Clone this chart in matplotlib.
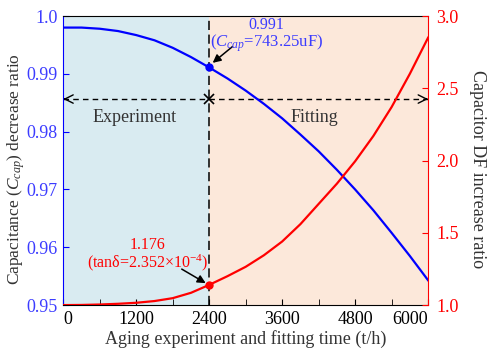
import matplotlib
matplotlib.use('Agg')
import matplotlib.pyplot as plt
import numpy as np

# --- Data ---
hours = [0, 300, 600, 900, 1200, 1500, 1800, 2100, 2400, 2700, 3000,
         3300, 3600, 3900, 4200, 4500, 4800, 5100, 5400, 5700, 6000]
cap_ratio = [0.9980, 0.9980, 0.9978, 0.9974, 0.9967, 0.9958, 0.9945,
             0.9929, 0.9911, 0.9892, 0.9871, 0.9848, 0.9823, 0.9795,
             0.9766, 0.9734, 0.9700, 0.9664, 0.9625, 0.9585, 0.9543]
df_ratio = [1.000, 1.001, 1.004, 1.009, 1.016, 1.028, 1.048, 1.085,
            1.140, 1.200, 1.265, 1.345, 1.440, 1.560, 1.700, 1.840,
            1.995, 2.170, 2.370, 2.600, 2.850]

split_hour = 2400
cap_mark = 0.9911
df_mark = 1.140
arrow_level = 0.98564

x_ticks = [0, 1200, 2400, 3600, 4800, 6000]
left_ticks = [0.95, 0.96, 0.97, 0.98, 0.99, 1.0]
left_labels = ['0.95', '0.96', '0.97', '0.98', '0.99', '1.0']
right_ticks = [1.0, 1.5, 2.0, 2.5, 3.0]
right_labels = ['1.0', '1.5', '2.0', '2.5', '3.0']

# --- Style ---
plt.rcParams['font.family'] = ['Liberation Serif', 'DejaVu Serif']
plt.rcParams['mathtext.fontset'] = 'custom'
plt.rcParams['mathtext.rm'] = 'Liberation Serif'
plt.rcParams['mathtext.it'] = 'Liberation Serif:italic'
plt.rcParams['font.size'] = 13

blue = '#0000ff'
blue_txt = '#3c3cff'
red = '#ff0000'
gray = '#333333'

fig = plt.figure(figsize=(4.87, 3.56), dpi=100)
ax = fig.add_axes([0.130, 0.143, 0.749, 0.812])
ax2 = ax.twinx()

# background regions
ax.axvspan(0, split_hour, color='#d9ebf1', zorder=0, lw=0)
ax.axvspan(split_hour, 6000, color='#fce8da', zorder=0, lw=0)
ax.axvline(split_hour, color='black', lw=1.1, ls=(0, (6, 3)), zorder=2)

# curves
ax.plot(hours, cap_ratio, color=blue, lw=1.6, zorder=3)
ax.plot([split_hour], [cap_mark], 'o', color=blue, ms=5, zorder=4)
ax2.plot(hours, df_ratio, color=red, lw=1.6, zorder=3)
ax2.plot([split_hour], [df_mark], 'o', color=red, ms=5, zorder=4)

# experiment / fitting dashed arrows
ax.plot([0, 6000], [arrow_level, arrow_level], color='black', lw=1.0,
        ls=(0, (4, 3)), zorder=2)
for tip, tail in [(0, 30), (6000, 5970)]:
    ax.annotate('', xy=(tip, arrow_level), xytext=(tail, arrow_level),
                arrowprops=dict(arrowstyle='->', lw=1.0, color='black',
                                shrinkA=0, shrinkB=0,
                                mutation_scale=15))
ax.plot([split_hour], [arrow_level], 'x', color='black', ms=7, mew=1.2,
        zorder=4)
ax.text(1175, 0.9825, 'Experiment', ha='center', va='center', color=gray,
        fontsize=13)
ax.text(4134, 0.9825, 'Fitting', ha='center', va='center', color=gray,
        fontsize=13)

# annotations
ax.annotate('', xy=(2457, 0.9919), xytext=(2781, 0.9947),
            arrowprops=dict(arrowstyle='-|>', color='black', lw=1.1,
                            shrinkA=0, shrinkB=0, mutation_scale=12))
ax.text(3345, 0.99850, '0.991', ha='center', va='center', color=blue_txt,
        fontsize=11.5)
ax.text(3345, 0.99525, '($C_{cap}$=743.25uF)', ha='center', va='center',
        color=blue_txt, fontsize=12)

ax2.annotate('', xy=(2342, 1.152), xytext=(1948, 1.249),
             arrowprops=dict(arrowstyle='-|>', color='black', lw=1.1,
                             shrinkA=0, shrinkB=0, mutation_scale=12))
ax2.text(1389, 1.418, '1.176', ha='center', va='center', color=red,
         fontsize=11.5)
ax2.text(1389, 1.295, '(tan\u03b4=2.352\u00d710$^{-4}$)', ha='center',
         va='center', color=red, fontsize=11.5)

# axes limits and ticks
ax.set_xlim(0, 6000)
ax.set_ylim(0.95, 1.0)
ax2.set_ylim(1.0, 3.0)

ax.set_xticks(x_ticks)
ax.set_xticks(np.arange(600, 6000, 1200), minor=True)
ax.set_yticks(left_ticks)
ax.set_yticklabels(left_labels)
ax2.set_yticks(right_ticks)
ax2.set_yticklabels(right_labels)

xlabels = ax.get_xticklabels()
xlabels[0].set_horizontalalignment('left')
xlabels[-1].set_horizontalalignment('right')

ax.tick_params(axis='x', which='both', direction='in', length=4,
               colors='black', labelcolor='black', top=False, pad=4)
ax.tick_params(axis='y', direction='in', length=4, color=blue,
               labelcolor=blue_txt, pad=4)
ax2.tick_params(axis='y', direction='in', length=4, color=red,
                labelcolor=red, pad=6)

ax.spines['left'].set_color(blue)
ax2.spines['left'].set_visible(False)
ax2.spines['right'].set_color(red)
ax.spines['right'].set_visible(False)
for sp in ['top', 'bottom']:
    ax2.spines[sp].set_visible(False)
    ax.spines[sp].set_color('black')

ax.set_xlabel('Aging experiment and fitting time (t/h)', color=gray,
              fontsize=13, labelpad=2)
ax.set_ylabel('Capacitance ($C_{cap}$) decrease ratio', color=gray,
              fontsize=12.5, va='center')
ax.yaxis.set_label_coords(-0.128, 0.47)
ax2.set_ylabel('Capacitor DF increase ratio', color=gray, fontsize=13,
               rotation=270, va='center')
ax2.yaxis.set_label_coords(1.136, 0.47)

fig.savefig('out.png', dpi=100)
